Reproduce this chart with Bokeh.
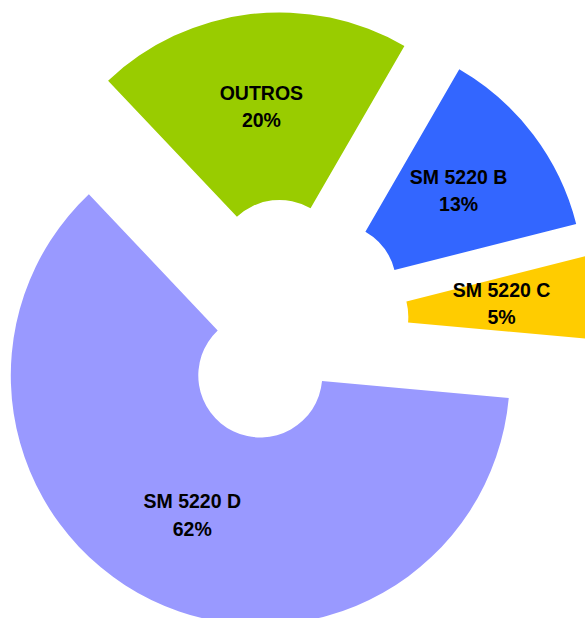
import numpy as np
from bokeh.plotting import figure
from bokeh.models import ColumnDataSource, Range1d
from bokeh.embed import file_html
from bokeh.resources import INLINE
from bokeh.core.properties import value

# ---- data ----
categories = ["OUTROS", "SM 5220 B", "SM 5220 C", "SM 5220 D"]
shares = [20.4, 12.7, 5.4, 61.5]          # percent of the whole
pct_labels = ["20%", "13%", "5%", "62%"]
colors = ["#99CC00", "#3366FF", "#FFCC00", "#9999FF"]

# ---- layout / style ----
W, H = 585, 618
CX, CY = 286.0, 321.0          # pie centre in picture pixels
R_OUT, R_IN = 249.5, 62.0
EXPLODE = 60.0
START_DEG = 133.4              # first slice starts here and runs clockwise
LABEL_R = (R_OUT + R_IN) / 2.0

vals = np.array(shares, dtype=float)
frac = vals / vals.sum()
cum = np.concatenate([[0.0], np.cumsum(frac)])
hi = START_DEG - cum[:-1] * 360.0
lo = START_DEG - cum[1:] * 360.0
mid = np.radians((hi + lo) / 2.0)

ax = EXPLODE * np.cos(mid)
ay = EXPLODE * np.sin(mid)
lx = ax + LABEL_R * np.cos(mid)
ly = ay + LABEL_R * np.sin(mid)

src = ColumnDataSource(dict(
    x=ax, y=ay,
    start=np.radians(lo), end=np.radians(hi),
    color=colors,
    name=categories, pct=pct_labels,
    lx=lx, ly1=ly + 14.5, ly2=ly - 13.0,
))

# data coordinates: 1 unit = 1 px, centre at (0,0)
x0 = -CX
y_top = CY
p = figure(width=W, height=H, output_backend="svg", toolbar_location=None,
           x_range=Range1d(x0, x0 + W), y_range=Range1d(y_top - H, y_top),
           x_axis_type=None, y_axis_type=None, min_border=0,
           outline_line_color=None, background_fill_color="white",
           border_fill_color="white")
p.grid.visible = False

p.annular_wedge(x="x", y="y", inner_radius=R_IN, outer_radius=R_OUT,
                start_angle="start", end_angle="end", direction="anticlock",
                fill_color="color", line_color=None, source=src)

common = dict(text_font=value("Liberation Sans"), text_font_style="bold",
              text_font_size="19.5px", text_align="center",
              text_baseline="alphabetic", text_color="black", source=src)
p.text(x="lx", y="ly1", text="name", **common)
p.text(x="lx", y="ly2", text="pct", **common)

open("out.html", "w").write(file_html(p, INLINE))
